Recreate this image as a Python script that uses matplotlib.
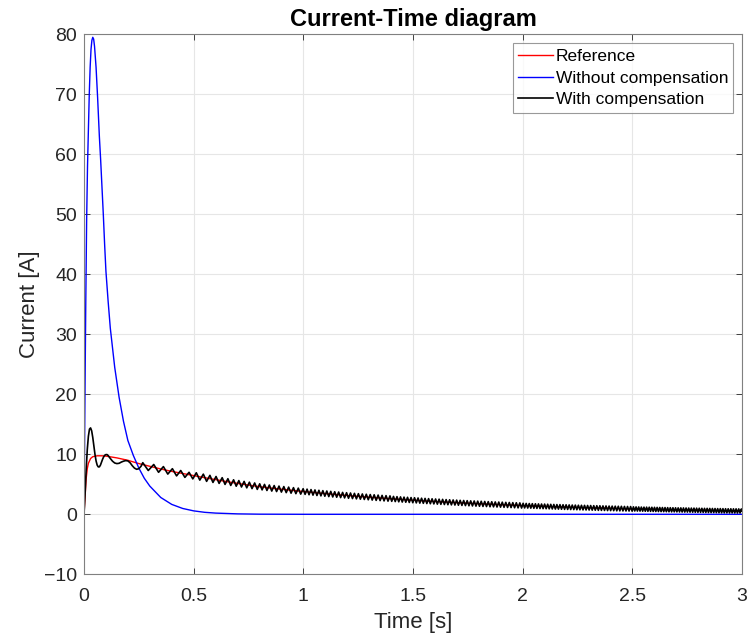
import matplotlib
matplotlib.use("Agg")
from matplotlib import pyplot as plt

plt.rcParams['font.family'] = ['Liberation Sans', 'DejaVu Sans']

# reference current
red_t = [0, 0.005, 0.01, 0.015, 0.02, 0.03, 0.04, 0.06, 0.08, 0.1, 0.15, 0.2, 0.25,
         0.3, 0.35, 0.4, 0.45, 0.5, 0.55, 0.6, 0.65, 0.7, 0.75, 0.8, 0.85, 0.9, 0.95,
         1.0, 1.1, 1.2, 1.3, 1.4, 1.5, 1.6, 1.7, 1.8, 1.9, 2.0, 2.1, 2.2, 2.3, 2.4,
         2.5, 2.6, 2.7, 2.8, 2.9, 3.0]
red_i = [0, 3.0, 6.0, 7.6, 8.5, 9.3, 9.6, 9.75, 9.75, 9.7, 9.4, 9.0, 8.45,
         8.0, 7.55, 7.15, 6.8, 6.45, 6.1, 5.78, 5.45, 5.15, 4.87, 4.6, 4.38, 4.18, 3.98,
         3.8, 3.45, 3.13, 2.85, 2.59, 2.35, 2.13, 1.94, 1.76, 1.60, 1.45, 1.32, 1.20, 1.09, 0.99,
         0.90, 0.81, 0.74, 0.67, 0.61, 0.55]

# without compensation
blue_t = [0, 0.004, 0.008, 0.012, 0.016, 0.02, 0.024, 0.028, 0.032, 0.036, 0.04, 0.044,
          0.048, 0.055, 0.062, 0.07, 0.076, 0.082, 0.088, 0.094, 0.1, 0.11, 0.12, 0.14,
          0.16, 0.18, 0.2, 0.225, 0.25, 0.275, 0.3, 0.35, 0.4, 0.45, 0.5, 0.55, 0.6,
          0.7, 0.8, 1.0, 3.0]
blue_i = [0, 18, 35, 49, 58, 64, 70, 74.5, 77.5, 79.0, 79.5, 79.2,
          78.0, 74.5, 69.5, 63, 59, 54.5, 50, 45, 40.5, 35.5, 31, 24.5,
          19.5, 15.5, 12.3, 9.8, 7.7, 6.0, 4.7, 2.8, 1.65, 0.97, 0.57, 0.33, 0.2,
          0.07, 0.02, 0.0, 0.0]

# with compensation (peaks and troughs of the ripple)
black_t = [0.0, 0.005, 0.01, 0.015, 0.02, 0.025, 0.03, 0.035, 0.04, 0.045, 0.05, 0.055,
           0.06, 0.065, 0.07, 0.075, 0.08, 0.085, 0.09, 0.095, 0.1, 0.105, 0.11, 0.12,
           0.13, 0.14, 0.15, 0.16, 0.17, 0.18, 0.19, 0.2, 0.21, 0.22, 0.23, 0.24, 0.25,
           0.26,
           0.268, 0.293, 0.318, 0.340, 0.362, 0.382, 0.403, 0.422, 0.441, 0.460, 0.479, 0.496,
           0.512, 0.528, 0.544, 0.559, 0.574, 0.588, 0.602, 0.616, 0.630, 0.643, 0.656,
           0.669, 0.682, 0.694, 0.706, 0.718, 0.730, 0.742, 0.754, 0.766, 0.778, 0.790,
           0.801, 0.812, 0.823, 0.834, 0.845, 0.856, 0.867, 0.878, 0.889, 0.900, 0.911,
           0.922, 0.933, 0.944, 0.955, 0.966, 0.977, 0.988, 0.999,
           1.008, 1.017, 1.026, 1.035, 1.044, 1.053, 1.062, 1.071, 1.080, 1.089, 1.098,
           1.107, 1.116, 1.125, 1.134, 1.143, 1.152, 1.161, 1.170, 1.179, 1.188, 1.197,
           1.206, 1.215, 1.224, 1.233, 1.242, 1.251, 1.260, 1.269, 1.278, 1.287, 1.296,
           1.305, 1.314, 1.323, 1.332, 1.341, 1.350, 1.359, 1.368, 1.377, 1.386, 1.395,
           1.403, 1.411, 1.419, 1.427, 1.435, 1.443, 1.451, 1.459, 1.467, 1.475, 1.483,
           1.491, 1.499, 1.507, 1.515, 1.523, 1.531, 1.539, 1.547, 1.555, 1.563, 1.571,
           1.579, 1.587, 1.595, 1.603, 1.611, 1.619, 1.627, 1.635, 1.643, 1.651, 1.659,
           1.667, 1.675, 1.683, 1.691, 1.699, 1.707, 1.715, 1.723, 1.731, 1.739, 1.747,
           1.755, 1.763, 1.771, 1.779, 1.787, 1.795, 1.803, 1.811, 1.819, 1.827, 1.835,
           1.843, 1.851, 1.859, 1.867, 1.875, 1.883, 1.891, 1.899, 1.907, 1.915, 1.923,
           1.931, 1.939, 1.947, 1.955, 1.963, 1.971, 1.979, 1.987, 1.995,
           2.002, 2.009, 2.016, 2.023, 2.030, 2.037, 2.044, 2.051, 2.058, 2.065, 2.072,
           2.079, 2.086, 2.093, 2.100, 2.107, 2.114, 2.121, 2.128, 2.135, 2.142, 2.149,
           2.156, 2.163, 2.170, 2.177, 2.184, 2.191, 2.198, 2.205, 2.212, 2.219, 2.226,
           2.233, 2.240, 2.247, 2.254, 2.261, 2.268, 2.275, 2.282, 2.289, 2.296, 2.303,
           2.310, 2.317, 2.324, 2.331, 2.338, 2.345, 2.352, 2.359, 2.366, 2.373, 2.380,
           2.387, 2.394, 2.401, 2.408, 2.415, 2.422, 2.429, 2.436, 2.443, 2.450, 2.457,
           2.464, 2.471, 2.478, 2.485, 2.492, 2.499,
           2.505, 2.511, 2.517, 2.523, 2.529, 2.535, 2.541, 2.547, 2.553, 2.559, 2.565,
           2.571, 2.577, 2.583, 2.589, 2.595, 2.601, 2.607, 2.613, 2.619, 2.625, 2.631,
           2.637, 2.643, 2.649, 2.655, 2.661, 2.667, 2.673, 2.679, 2.685, 2.691, 2.697,
           2.703, 2.709, 2.715, 2.721, 2.727, 2.733, 2.739, 2.745, 2.751, 2.757, 2.763,
           2.769, 2.775, 2.781, 2.787, 2.793, 2.799, 2.805, 2.811, 2.817, 2.823, 2.829,
           2.835, 2.841, 2.847, 2.853, 2.859, 2.865, 2.871, 2.877, 2.883, 2.889, 2.895,
           2.901, 2.907, 2.913, 2.919, 2.925, 2.931, 2.937, 2.943, 2.949, 2.955, 2.961,
           2.967, 2.973, 2.979, 2.985, 2.991, 2.997, 3.0]
black_i = [0.0, 3.5, 7.5, 10.8, 13.0, 14.2, 14.4, 13.9, 12.8, 11.4, 10.0, 8.9,
           8.2, 7.9, 7.9, 8.2, 8.7, 9.2, 9.6, 9.85, 9.95, 9.95, 9.8, 9.3,
           8.85, 8.55, 8.45, 8.5, 8.7, 8.85, 8.95, 8.9, 8.6, 8.1, 7.7, 7.5, 7.6,
           8.0,
           8.6, 7.3, 8.3, 7.0, 7.95, 6.7, 7.6, 6.4, 7.3, 6.15, 7.0, 5.9,
           6.92, 5.70, 6.69, 5.49, 6.49, 5.31, 6.30, 5.15, 6.10, 4.98, 5.93,
           4.81, 5.75, 4.68, 5.62, 4.55, 5.48, 4.41, 5.35, 4.28, 5.22, 4.15,
           5.08, 4.07, 4.98, 3.97, 4.88, 3.87, 4.79, 3.79, 4.70, 3.70, 4.62,
           3.61, 4.53, 3.52, 4.44, 3.44, 4.36, 3.36, 4.26,
           3.32, 4.19, 3.26, 4.12, 3.19, 4.06, 3.13, 4.00, 3.07, 3.94, 3.01,
           3.88, 2.95, 3.82, 2.89, 3.76, 2.84, 3.71, 2.78, 3.65, 2.73, 3.60,
           2.67, 3.55, 2.62, 3.49, 2.57, 3.44, 2.52, 3.39, 2.47, 3.34, 2.42,
           3.29, 2.37, 3.25, 2.32, 3.20, 2.28, 3.15, 2.23, 3.11, 2.19, 3.07,
           2.16, 2.98, 2.12, 2.94, 2.08, 2.90, 2.04, 2.86, 2.01, 2.83, 1.97,
           2.79, 1.93, 2.76, 1.90, 2.72, 1.86, 2.68, 1.83, 2.65, 1.79, 2.61,
           1.76, 2.58, 1.73, 2.55, 1.69, 2.52, 1.66, 2.49, 1.63, 2.45, 1.60,
           2.42, 1.57, 2.39, 1.54, 2.36, 1.51, 2.33, 1.48, 2.30, 1.45, 2.27,
           1.42, 2.24, 1.39, 2.22, 1.36, 2.19, 1.34, 2.17, 1.31, 2.14, 1.29,
           2.11, 1.26, 2.09, 1.24, 2.06, 1.21, 2.04, 1.19, 2.02, 1.16, 1.99,
           1.14, 1.97, 1.12, 1.94, 1.09, 1.92, 1.07, 1.90, 1.04,
           1.83, 1.06, 1.81, 1.04, 1.79, 1.02, 1.77, 1.00, 1.75, 0.98, 1.73,
           0.96, 1.71, 0.94, 1.70, 0.93, 1.68, 0.91, 1.66, 0.89, 1.64, 0.87,
           1.62, 0.86, 1.61, 0.84, 1.59, 0.82, 1.58, 0.81, 1.56, 0.79, 1.54,
           0.78, 1.53, 0.76, 1.51, 0.75, 1.50, 0.73, 1.49, 0.72, 1.47, 0.71,
           1.46, 0.69, 1.44, 0.68, 1.43, 0.66, 1.42, 0.65, 1.40, 0.64, 1.39,
           0.62, 1.37, 0.61, 1.36, 0.60, 1.35, 0.58, 1.34, 0.57, 1.33, 0.56,
           1.31, 0.55, 1.30, 0.54, 1.29, 0.52,
           1.24, 0.55, 1.23, 0.54, 1.22, 0.53, 1.20, 0.52, 1.19, 0.51, 1.19,
           0.50, 1.18, 0.49, 1.17, 0.48, 1.16, 0.47, 1.15, 0.46, 1.14, 0.45,
           1.13, 0.44, 1.12, 0.43, 1.11, 0.42, 1.10, 0.41, 1.09, 0.41, 1.08,
           0.40, 1.07, 0.39, 1.07, 0.38, 1.06, 0.37, 1.05, 0.37, 1.04, 0.36,
           1.03, 0.35, 1.03, 0.34, 1.02, 0.33, 1.01, 0.33, 1.00, 0.32, 0.99,
           0.31, 0.99, 0.30, 0.98, 0.29, 0.97, 0.29, 0.96, 0.28, 0.95, 0.27,
           0.95, 0.26, 0.94, 0.25, 0.93, 0.25, 0.92, 0.24, 0.92, 0.24, 0.91,
           0.23, 0.91, 0.22, 0.90, 0.22, 0.89, 0.55]

xticks = [0, 0.5, 1, 1.5, 2, 2.5, 3]
xtick_labels = ['0', '0.5', '1', '1.5', '2', '2.5', '3']
yticks = [-10, 0, 10, 20, 30, 40, 50, 60, 70, 80]

fig = plt.figure(figsize=(7.48, 6.35), dpi=100)
ax = fig.add_axes([0.1123, 0.0956, 0.8797, 0.8504])

ax.plot(red_t, red_i, color='#ff0000', lw=1.0, label='Reference')
ax.plot(blue_t, blue_i, color='#0000ff', lw=1.0, label='Without compensation')
ax.plot(black_t, black_i, color='#000000', lw=1.2, label='With compensation')

ax.set_xlim(0, 3)
ax.set_ylim(-10, 80)
ax.set_xticks(xticks)
ax.set_xticklabels(xtick_labels)
ax.set_yticks(yticks)
ax.grid(True, color='#e6e6e6', lw=0.8)
ax.set_axisbelow(True)
ax.tick_params(direction='in', length=4, width=0.6, top=True, right=True,
               labelsize=14, colors='#262626', pad=5)
ax.tick_params(axis='x', pad=10)
for s in ax.spines.values():
    s.set_color('#808080')
    s.set_linewidth(0.8)

ax.set_xlabel('Time [s]', fontsize=16, color='#262626', labelpad=5)
ax.set_ylabel('Current [A]', fontsize=16, color='#262626', labelpad=3)
ax.set_title('Current-Time diagram', fontsize=17, fontweight='bold', pad=6)

leg = ax.legend(loc='upper right', bbox_to_anchor=(0.987, 0.983), borderaxespad=0,
                fontsize=12.5, frameon=True, fancybox=False, handlelength=2.0,
                handletextpad=0.15, labelspacing=0.38, borderpad=0.3)
leg.get_frame().set_edgecolor('#808080')
leg.get_frame().set_linewidth(0.8)

plt.savefig('out.png', dpi=100)
plt.close()
